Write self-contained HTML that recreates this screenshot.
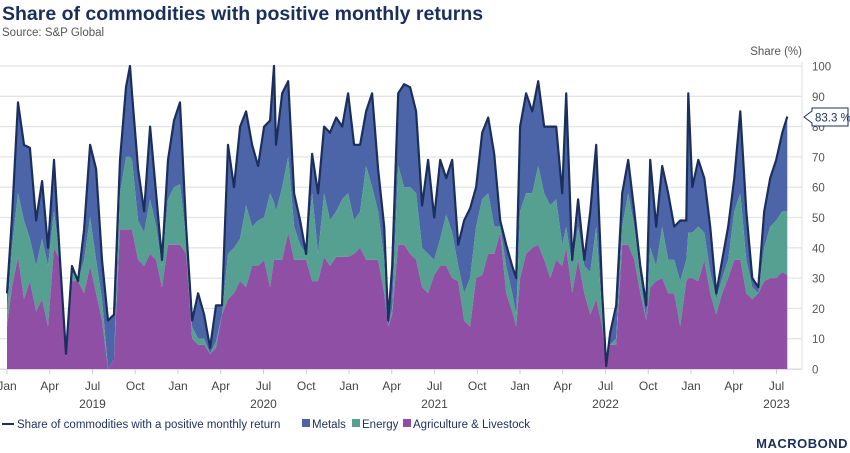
<!DOCTYPE html>
<html><head><meta charset="utf-8"><style>
body{margin:0;background:#fff;}
svg{display:block;font-family:"Liberation Sans",sans-serif;}
</style></head><body>
<svg id="chart" width="850" height="453" viewBox="0 0 850 453">
<text x="2" y="20" font-size="19.5" font-weight="bold" fill="#1b2f5c">Share of commodities with positive monthly returns</text>
<text x="2" y="36" font-size="11.5" fill="#555">Source: S&amp;P Global</text>
<text x="802" y="55" font-size="11.5" fill="#555" text-anchor="end">Share (%)</text>
<g id="grid"></g>
<g id="areas"></g>
<g id="axes"></g>
<g id="legend">
  <line x1="2" y1="424" x2="14" y2="424" stroke="#1b2f5c" stroke-width="2"/>
  <text x="17" y="428" font-size="11.5" fill="#1b2f5c">Share of commodities with a positive monthly return</text>
  <rect x="302" y="419" width="8" height="8" fill="#4b65a8"/>
  <text x="312" y="428" font-size="11.5" fill="#1b2f5c">Metals</text>
  <rect x="352" y="419" width="8" height="8" fill="#55a090"/>
  <text x="362" y="428" font-size="11.5" fill="#1b2f5c">Energy</text>
  <rect x="403" y="419" width="8" height="8" fill="#8e4fa5"/>
  <text x="413" y="428" font-size="11.5" fill="#1b2f5c">Agriculture &amp; Livestock</text>
</g>
<text x="848" y="448" font-size="13" font-weight="bold" fill="#1b2f5c" text-anchor="end" letter-spacing="0.5">MACROBOND</text>
<g>
  <path d="M804 117 L812 111 L812 108 L848 108 L848 126 L812 126 L812 123 Z" fill="#fff" stroke="#1b2f5c" stroke-width="1"/>
  <text x="815" y="121.5" font-size="11.5" fill="#1b2f5c">83.3 %</text>
</g>
</svg>
<script>
// months since Jan 2019
const months=[0,0.35,0.77,1.19,1.61,2.04,2.46,2.88,3.30,3.72,4.14,4.56,4.98,5.41,5.83,6.25,6.67,7.09,7.51,7.93,8.35,8.63,8.77,9.20,9.62,10.04,10.46,10.88,11.30,11.72,12.14,12.57,12.99,13.41,13.83,14.25,14.67,15.09,15.51,15.93,16.36,16.78,17.20,17.62,18.04,18.46,18.74,18.88,19.31,19.73,20.15,20.57,20.99,21.41,21.83,22.25,22.67,23.10,23.52,23.94,24.36,24.78,25.20,25.62,26.04,26.47,26.75,27.03,27.45,27.87,28.29,28.71,29.13,29.55,29.98,30.40,30.82,31.24,31.66,32.08,32.50,32.92,33.35,33.77,34.19,34.61,35.03,35.45,35.73,36.01,36.43,36.86,37.28,37.70,38.12,38.54,38.96,39.24,39.66,40.08,40.51,40.93,41.35,41.77,42.05,42.33,42.75,43.17,43.59,44.02,44.44,44.86,45.14,45.56,45.98,46.40,46.82,47.24,47.67,47.81,48.09,48.51,48.93,49.35,49.77,50.19,50.61,51.04,51.46,51.88,52.30,52.72,53.14,53.56,53.98,54.41,54.76];
const totalShare=[25,50,88,74,73,49,62,40,69,36,5,34,29,46,74,66,36,16,18,69,93,100,91,66,52,80,58,36,69,82,88,47,16,25,18,7,21,21,74,60,80,85,74,67,80,82,100,74,91,95,58,49,38,71,58,80,78,83,80,91,74,74,85,91,66,47,16,34,91,94,93,85,54,69,50,69,63,69,41,49,53,60,78,83,71,49,41,34,30,80,91,85,95,80,80,80,58,91,36,56,36,52,74,25,1,12,21,58,69,52,34,21,69,47,67,58,47,49,49,91,60,69,63,47,25,36,47,63,85,52,30,27,52,63,69,78,83.3];
const agriShare=[14,27,37,23,29,19,23,14,40,36,4,29,29,25,34,25,16,0,3,46,46,46,46,36,34,38,36,27,41,41,41,38,10,8,8,5,7,18,23,25,29,27,34,34,36,27,36,36,36,45,36,36,36,29,29,37,34,37,37,37,38,40,36,36,36,25,14,18,41,41,38,36,27,25,31,34,34,30,29,16,14,30,31,38,38,45,25,19,14,30,38,40,41,36,30,36,34,40,25,36,25,18,23,14,1,8,8,41,41,36,25,16,27,29,30,25,25,14,29,30,30,29,36,25,18,25,30,36,36,25,23,25,29,30,30,32,31];
const agriPlusEnergy=[18,40,58,49,43,34,43,34,52,36,4,32,29,36,50,36,23,0,3,58,70,70,69,49,45,56,47,34,56,60,61,43,14,10,10,5,9,18,38,40,43,54,47,49,50,58,55,52,60,70,47,41,38,58,38,58,49,52,56,58,49,52,67,60,52,36,14,20,67,60,60,58,40,38,36,43,51,45,34,25,30,47,56,58,47,47,34,25,18,52,58,58,67,58,54,56,41,47,34,47,34,32,47,18,1,8,10,47,58,47,30,16,40,34,47,36,36,29,36,45,45,47,45,32,23,30,36,52,58,36,27,25,40,47,49,52,52];
const yTicks=[0,10,20,30,40,50,60,70,80,90,100];
const monthLabels=["Jan","Apr","Jul","Oct"];
const years=[2019,2020,2021,2022,2023];

const NS="http://www.w3.org/2000/svg";
const X0=7,PXM=14.25,Y0=369,PXV=3.03;
function xs(t){return X0+t*PXM;}
function ys(v){return Y0-v*PXV;}
function mk(tag,attrs,parent){const e=document.createElementNS(NS,tag);for(const k in attrs)e.setAttribute(k,attrs[k]);parent.appendChild(e);return e;}
const grid=document.getElementById('grid'),areas=document.getElementById('areas'),axes=document.getElementById('axes');
yTicks.forEach(v=>{
  const l=mk('line',{x1:0,x2:802,y1:ys(v),y2:ys(v),stroke:'#e4e4e4','stroke-width':1.3},grid);
  
  
  const t=mk('text',{x:812,y:ys(v)+4.5,'font-size':11.5,fill:'#555'},axes);
  t.textContent=v;
  
  
});
mk('line',{x1:802,x2:802,y1:62,y2:369,stroke:'#e4e4e4','stroke-width':1.3},axes);
function areaPath(top,bot){
  let d='M'+xs(months[0])+' '+ys(top[0]);
  for(let i=1;i<months.length;i++)d+=' L'+xs(months[i]).toFixed(1)+' '+ys(top[i]).toFixed(1);
  for(let i=months.length-1;i>=0;i--)d+=' L'+xs(months[i]).toFixed(1)+' '+ys(bot?bot[i]:0).toFixed(1);
  return d+'Z';
}
const mArea=mk('path',{d:areaPath(totalShare,agriPlusEnergy),fill:'#4b65a8'},areas);


const eArea=mk('path',{d:areaPath(agriPlusEnergy,agriShare),fill:'#55a090'},areas);


const aArea=mk('path',{d:areaPath(agriShare,null),fill:'#8e4fa5'},areas);


let ld='';
months.forEach((t,i)=>{ld+=(i?' L':'M')+xs(t).toFixed(1)+' '+ys(totalShare[i]).toFixed(1);});
const line=mk('path',{d:ld,fill:'none',stroke:'#1b2f5c','stroke-width':2.2,'stroke-linejoin':'round'},areas);


mk('line',{x1:0,x2:802,y1:369.5,y2:369.5,stroke:'#ddd','stroke-width':1},axes);
for(let m=0;m<=54;m+=3){
  const x=xs(m);
  mk('line',{x1:x,x2:x,y1:369,y2:374,stroke:'#ccc','stroke-width':1},axes);
  const t=mk('text',{x:x,y:390,'font-size':12,fill:'#444','text-anchor':'middle'},axes);
  t.textContent=monthLabels[(m/3)%4];
  
  
}
years.forEach((y,i)=>{
  const t=mk('text',{x:xs(i*12+6),y:408,'font-size':12,fill:'#444','text-anchor':'middle'},axes);
  t.textContent=y;
  
  
});
</script>
</body></html>
